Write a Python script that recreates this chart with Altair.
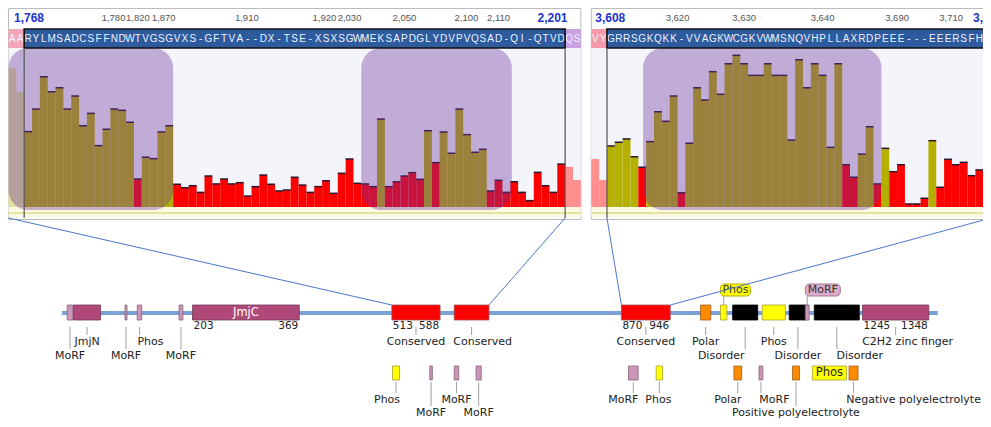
import altair as alt
import pandas as pd

# ---------------------------------------------------------------- data
LEFT_SEQ = list("AA" "RYLMSADCSFFNDWTVGSGVXS-GFTVA--DX-TSE-XSXSGWMEKSAPDGLYDVPVQSAD-QI-QTVD" "QS")
LEFT_VALUES = [87.2, 72.5,
               47.4, 61.6, 81.9, 72.5, 75.0, 61.6, 69.8, 51.1, 58.9, 38.6,
               48.9, 61.6, 60.8, 53.3, 17.6, 31.3, 30.4, 47.2, 51.1, 14.3,
               12.1, 13.4, 9.2, 19.5, 14.5, 17.6, 14.5, 15.3, 6.9, 12.8,
               20.1, 14.3, 10.1, 10.7, 18.7, 13.8, 9.2, 12.8, 16.5, 8.6,
               21.2, 30.2, 14.9, 14.5, 12.8, 55.3, 12.8, 15.9, 19.5, 21.6,
               17.4, 48.0, 27.9, 47.2, 33.8, 61.6, 45.5, 34.4, 36.3, 10.1,
               16.8, 9.2, 15.9, 9.2, 4.0, 21.8, 13.4, 9.2, 27.0,
               25.3, 17.0]
LEFT_CLASS = list("OO" "oooooooooooooo" "r" "oooo" "rrrrrrrrrrrrrrrrrrrrrrrrrr" "o" "rrrrr"
                  "o" "r" "oooooo" "rrrrrrrrrr" "RR")
LEFT_HEADER_COLS = [13.4, 16.5, 19.8, 30.4, 40.3, 43.5, 50.5, 58.4, 62.5]
LEFT_HEADER_LABELS = ["1,780", "1,820", "1,870", "1,910", "1,920", "2,030", "2,050", "2,100", "2,110"]
LEFT_END_LABELS = [("1,768", 0.7, "left"), ("2,201", 71.3, "right")]
LEFT_HIGHLIGHTS = [(0.0, 21.0), (45.0, 64.2)]
LEFT_SELECTION = (2, 71)

RIGHT_SEQ = list("VY" "GRRSGKQKK-VVAGKWCGKVWMSNQVHPLLAXRDPEEE---EEERSFHA")
RIGHT_VALUES = [30.2, 17.0,
                38.4, 40.7, 42.8, 31.6, 25.0, 41.1, 59.9, 53.9, 69.8, 9.0,
                40.1, 75.0, 67.3, 85.1, 70.9, 90.1, 95.4, 90.1, 82.8, 82.8,
                90.1, 82.8, 82.8, 42.1, 92.6, 75.0, 90.1, 82.8, 37.5, 90.1,
                26.6, 18.7, 33.3, 50.5, 14.5, 36.9, 22.2, 26.6, 1.9, 1.9,
                5.5, 41.7, 12.4, 30.0, 26.6, 28.1, 19.7, 23.3, 14.9]
RIGHT_CLASS = list("RR" "oooo" "r" "oooo" "r" "oooooooooooooooooooo" "rr" "oo" "r" "o"
                   "rrrrr" "o" "rrrrrrr")
RIGHT_HEADER_COLS = [11.0, 19.5, 29.5, 39.0, 45.9]
RIGHT_HEADER_LABELS = ["3,620", "3,630", "3,640", "3,690", "3,710"]
RIGHT_END_LABELS = [("3,608", 0.5, "left"), ("3,", 48.7, "left")]
RIGHT_HIGHLIGHTS = [(6.6, 37.0)]
RIGHT_SELECTION = (2, 51)

TRACK_LEN = 1362
UPPER_NAMES = ["MoRF", "JmjN", "MoRF", "Phos", "MoRF", "JmjC", "Conserved", "Conserved",
               "Conserved", "Polar", "Phos", "Disorder", "Phos", "Disorder", "MoRF",
               "Disorder", "C2H2 zinc finger"]
UPPER_START = [8, 18, 98, 117, 182, 203, 513, 610, 870, 993, 1024, 1043, 1089, 1131, 1156, 1170, 1245]
UPPER_END = [17, 60, 101, 124, 188, 369, 588, 664, 946, 1009, 1034, 1082, 1125, 1158, 1162, 1240, 1348]
UPPER_KIND = ["morf", "domain", "morf", "morf", "morf", "domain", "conserved", "conserved",
              "conserved", "polar", "phos", "disorder", "phos", "disorder", "morf",
              "disorder", "domain"]

LOWER_NAMES = ["Phos", "MoRF", "MoRF", "MoRF", "MoRF", "Phos", "Polar", "MoRF",
               "Positive polyelectrolyte", "Phos", "Negative polyelectrolyte"]
LOWER_START = [514, 572, 610, 644, 881, 924, 1045, 1084, 1136, 1167, 1224]
LOWER_END = [525, 576, 617, 652, 896, 934, 1057, 1090, 1147, 1220, 1238]
LOWER_KIND = ["phos", "morf", "morf", "morf", "morf", "phos", "polar", "morf",
              "polar", "phos", "polar"]

# zoom connectors: (panel, panel column, residue)
CONNECT = [("L", 0, 513), ("L", 71, 664), ("R", 2, 870), ("R", 51, 946)]

# ---------------------------------------------------------------- layout / style
W, H = 975, 411
COL_PX = 7.84
L_RANGE = [0.5, 0.5 + len(LEFT_SEQ) * COL_PX]
R_RANGE = [583.3, 583.3 + len(RIGHT_SEQ) * COL_PX]
T_DOMAIN = [0, 1372]
T_RANGE = [54, 54 + 0.643 * 1372]
FONT = "DejaVu Sans"
NFONT = "Liberation Sans"

BAR_COLORS = {"o": "#b5b000", "r": "#ff0000", "O": "#e2e29c", "R": "#ff8e8e"}
KIND_FILL = {"morf": "#cc96b8", "domain": "#b0497a", "conserved": "#ff0000",
             "phos": "#ffff00", "polar": "#ff8c00", "disorder": "#000000"}
KIND_STROKE = {"morf": "#85637a", "domain": "#6e3a52", "conserved": "#a05050",
               "phos": "#a8a030", "polar": "#a06020", "disorder": "#000000"}

# label styles: level 1 = short tick, 2 = long tick, "in" = inside, "co" = callout
UPPER_STYLE = [2, 1, 2, 1, 2, "in", 1, 1, 1, 1, "co", 2, 1, 2, "co", 2, 1]
UPPER_NUMBERS = [5, 6, 8, 16]
UPPER_DX = {3: 11, 7: 11, 11: -24, 15: 23, 16: 12}
LOWER_STYLE = [1, 2, 1, 2, 1, 1, 1, 1, 2, "in", 1]
LOWER_DX = {0: -9, 4: -10, 5: -1, 6: -10, 7: 13.5, 10: 60}
CALLOUT_W = {"Phos": 30, "MoRF": 35}
CALLOUT_FILL = {"phos": ("#ffff00", "#b8a800"), "morf": ("#dcaccb", "#a07a90")}

TRACK_Y = 305
UP_BOX = (297, 312)
NUM_Y = 318
UP_TICK = {1: (319, 327), 2: (319, 341)}
UP_LABEL = {1: 334, 2: 348}
CALL_BOX = (276, 288)
LOW_BOX = (358, 372)
LOW_TICK = {1: (374, 385), 2: (374, 398)}
LOW_LABEL = {1: 392, 2: 405}

PX_PER_RES = (T_RANGE[1] - T_RANGE[0]) / (T_DOMAIN[1] - T_DOMAIN[0])


def panel(seq, values, classes, x_range, hcols, hlabels, ends, highlights, selection,
          flank_l, flank_r):
    n = len(seq)
    xs = alt.Scale(domain=[0, n], range=x_range, nice=False, zero=False)
    ys = alt.Scale(domain=[0, 100], range=[199, 40], nice=False, zero=False)

    def X(f):
        return alt.X(f, type="quantitative", scale=xs, axis=None)

    span = pd.DataFrame({"a": [0], "b": [n]})
    frame = alt.Chart(span).mark_rect(fill="white", stroke="#bcbcbc", strokeWidth=1).encode(
        x=X("a"), x2="b:Q", y=alt.value(0.5), y2=alt.value(211.5))
    plotbg = alt.Chart(span).mark_rect(fill="#f4f4fb").encode(
        x=X("a"), x2="b:Q", y=alt.value(40), y2=alt.value(199))
    band = alt.Chart(span).mark_rect(fill="#fafae4").encode(
        x=X("a"), x2="b:Q", y=alt.value(199), y2=alt.value(209))
    bandline = alt.Chart(span).mark_rule(color="#dcdc8a", strokeWidth=1.5).encode(
        x=X("a"), x2="b:Q", y=alt.value(205))

    s0, s1 = selection
    seqbg_df = pd.DataFrame({"a": [0, s0, s1], "b": [s0, s1, n],
                             "fill": [flank_l, "#2d5b9e", flank_r]})
    seqbg = alt.Chart(seqbg_df).mark_rect().encode(
        x=X("a"), x2="b:Q", y=alt.value(21), y2=alt.value(40),
        color=alt.Color("fill:N", scale=None))
    let_df = pd.DataFrame({"c": [k + 0.5 for k in range(n)], "t": seq})
    letters = alt.Chart(let_df).mark_text(font=NFONT, fontSize=10, color="#eef2ff",
                                          baseline="middle").encode(
        x=X("c"), y=alt.value(30.5), text="t:N")

    hdr = pd.DataFrame({"c": hcols, "t": hlabels})
    header = alt.Chart(hdr).mark_text(font=NFONT, fontSize=9.5, color="#555555",
                                      baseline="middle").encode(
        x=X("c"), y=alt.value(9.5), text="t:N")
    end_layers = []
    for txt, col, al in ends:
        end_layers.append(
            alt.Chart(pd.DataFrame({"c": [col], "t": [txt]})).mark_text(
                font=NFONT, fontSize=12, fontWeight="bold", color="#2233cc",
                align=al, baseline="middle").encode(x=X("c"), y=alt.value(9.5), text="t:N"))

    bars_df = pd.DataFrame({"i": list(range(n)), "i1": [k + 1 for k in range(n)],
                            "v": values, "cls": classes})
    bars_df["fill"] = bars_df["cls"].map(BAR_COLORS)
    bars_df["z"] = 0
    bars = alt.Chart(bars_df).mark_rect().encode(
        x=X("i"), x2="i1:Q", y=alt.Y("v:Q", scale=ys, axis=None), y2="z:Q",
        color=alt.Color("fill:N", scale=None))
    tops = alt.Chart(bars_df).transform_filter(
        "datum.cls == 'o' || datum.cls == 'r'").mark_rule(
        color="#2b1830", strokeWidth=1.5).encode(
        x=X("i"), x2="i1:Q", y=alt.Y("v:Q", scale=ys, axis=None))

    hl = pd.DataFrame(highlights, columns=["a", "b"])
    purple = alt.Chart(hl).mark_rect(fill="#6e349e", fillOpacity=0.38, cornerRadius=20).encode(
        x=X("a"), x2="b:Q", y=alt.value(40), y2=alt.value(202))

    selbox = alt.Chart(pd.DataFrame({"a": [s0], "b": [s1]})).mark_rect(
        fillOpacity=0, stroke="#111111", strokeWidth=1.6).encode(
        x=X("a"), x2="b:Q", y=alt.value(21), y2=alt.value(40))
    sellines = alt.Chart(pd.DataFrame({"a": [s0, s1]})).mark_rule(
        color="#555555", strokeWidth=1.2).encode(x=X("a"), y=alt.value(40), y2=alt.value(210))

    return alt.layer(frame, plotbg, band, seqbg, letters, header, *end_layers,
                     bars, tops, bandline, purple, selbox, sellines)


left = panel(LEFT_SEQ, LEFT_VALUES, LEFT_CLASS, L_RANGE, LEFT_HEADER_COLS, LEFT_HEADER_LABELS,
             LEFT_END_LABELS, LEFT_HIGHLIGHTS, LEFT_SELECTION, "#f2a6b8", "#c9a0e2")
right = panel(RIGHT_SEQ, RIGHT_VALUES, RIGHT_CLASS, R_RANGE, RIGHT_HEADER_COLS,
              RIGHT_HEADER_LABELS, RIGHT_END_LABELS, RIGHT_HIGHLIGHTS, RIGHT_SELECTION,
              "#f59aa8", "#c9a0e2")

# ---------------------------------------------------------------- protein track
txs = alt.Scale(domain=T_DOMAIN, range=T_RANGE, nice=False, zero=False)
tys = alt.Scale(domain=[0, H], range=[0, H], nice=False, zero=False)


def TX(f):
    return alt.X(f, type="quantitative", scale=txs, axis=None)


def TY(f):
    return alt.Y(f, type="quantitative", scale=tys, axis=None)


def feat_df(names, starts, ends, kinds):
    d = pd.DataFrame({"name": names, "s": starts, "e": ends, "kind": kinds})
    d["fill"] = d["kind"].map(KIND_FILL)
    d["stroke"] = d["kind"].map(KIND_STROKE)
    d["mid"] = (d["s"] + d["e"]) / 2
    return d


up = feat_df(UPPER_NAMES, UPPER_START, UPPER_END, UPPER_KIND)
lo = feat_df(LOWER_NAMES, LOWER_START, LOWER_END, LOWER_KIND)

track_line = alt.Chart(pd.DataFrame({"a": [0], "b": [TRACK_LEN]})).mark_rule(
    color="#7ba1d6", strokeWidth=4).encode(x=TX("a"), x2="b:Q", y=alt.value(TRACK_Y))


def boxes(d, yy):
    return alt.Chart(d).mark_rect(strokeWidth=0.8).encode(
        x=TX("s"), x2="e:Q", y=alt.value(yy[0]), y2=alt.value(yy[1]),
        fill=alt.Fill("fill:N", scale=None), stroke=alt.Stroke("stroke:N", scale=None))


up_boxes = boxes(up, UP_BOX)
lo_boxes = boxes(lo, LOW_BOX)

nums = up.iloc[UPPER_NUMBERS]
num_start = alt.Chart(nums).mark_text(font=FONT, fontSize=10.5, color="#222222", align="left",
                                      baseline="middle", dx=1).encode(
    x=TX("s"), y=alt.value(NUM_Y), text="s:N")
num_end = alt.Chart(nums).mark_text(font=FONT, fontSize=10.5, color="#222222", align="right",
                                    baseline="middle", dx=-1).encode(
    x=TX("e"), y=alt.value(NUM_Y), text="e:N")

# ticks and labels
tick_rows, label_rows, inside_rows, call_rows = [], [], [], []
for d, styles, dxs, ticks, labs, box in [(up, UPPER_STYLE, UPPER_DX, UP_TICK, UP_LABEL, UP_BOX),
                                         (lo, LOWER_STYLE, LOWER_DX, LOW_TICK, LOW_LABEL, LOW_BOX)]:
    for k, row in d.iterrows():
        st = styles[k]
        if st in (1, 2):
            t0, t1 = ticks[st]
            tick_rows.append({"x": row["mid"], "y1": t0, "y2": t1})
            label_rows.append({"x": row["mid"] + dxs.get(k, 0) / PX_PER_RES,
                               "y": labs[st], "t": row["name"]})
        elif st == "in":
            inside_rows.append({"x": row["mid"], "y": (box[0] + box[1]) / 2, "t": row["name"],
                                "c": "white" if row["kind"] == "domain" else "#222222"})
        elif st == "co":
            w = CALLOUT_W[row["name"]] / PX_PER_RES
            f, s = CALLOUT_FILL[row["kind"]]
            call_rows.append({"a": row["s"], "b": row["s"] + w, "cx": row["s"] + w / 2,
                              "mid": row["mid"], "t": row["name"], "fill": f, "stroke": s})

ticks_df = pd.DataFrame(tick_rows)
labels_df = pd.DataFrame(label_rows)
inside_df = pd.DataFrame(inside_rows)
call_df = pd.DataFrame(call_rows)

tick_layer = alt.Chart(ticks_df).mark_rule(color="#a0a0a0", strokeWidth=1).encode(
    x=TX("x"), y=TY("y1"), y2="y2:Q")
label_layer = alt.Chart(labels_df).mark_text(font=FONT, fontSize=11, color="#222222",
                                             baseline="middle").encode(
    x=TX("x"), y=TY("y"), text="t:N")
inside_layer = alt.Chart(inside_df).mark_text(font=FONT, fontSize=11.5, baseline="middle").encode(
    x=TX("x"), y=TY("y"), text="t:N", color=alt.Color("c:N", scale=None))
call_tick = alt.Chart(call_df).mark_rule(color="#a0a0a0", strokeWidth=1).encode(
    x=TX("mid"), y=alt.value(CALL_BOX[1]), y2=alt.value(UP_BOX[0]))
call_box = alt.Chart(call_df).mark_rect(cornerRadius=4, strokeWidth=1).encode(
    x=TX("a"), x2="b:Q", y=alt.value(CALL_BOX[0]), y2=alt.value(CALL_BOX[1]),
    fill=alt.Fill("fill:N", scale=None), stroke=alt.Stroke("stroke:N", scale=None))
call_text = alt.Chart(call_df).mark_text(font=FONT, fontSize=11, color="#333333",
                                         baseline="middle").encode(
    x=TX("cx"), y=alt.value((CALL_BOX[0] + CALL_BOX[1]) / 2), text="t:N")

track = alt.layer(track_line, tick_layer, call_tick, up_boxes, lo_boxes, num_start, num_end,
                  label_layer, inside_layer, call_box, call_text)

# ---------------------------------------------------------------- zoom connectors


def panel_px(p, c):
    rng, n = (L_RANGE, len(LEFT_SEQ)) if p == "L" else (R_RANGE, len(RIGHT_SEQ))
    return rng[0] + c * (rng[1] - rng[0]) / n


conn_df = pd.DataFrame({
    "x": [panel_px(p, c) for p, c, r in CONNECT],
    "y": [210 for _ in CONNECT],
    "x2": [T_RANGE[0] + r * PX_PER_RES for p, c, r in CONNECT],
    "y2": [UP_BOX[0] for _ in CONNECT],
})
pxs = alt.Scale(domain=[0, W], range=[0, W], nice=False, zero=False)
connectors = alt.Chart(conn_df).mark_rule(color="#4a78c8", strokeWidth=1).encode(
    x=alt.X("x:Q", scale=pxs, axis=None), x2="x2:Q",
    y=alt.Y("y:Q", scale=tys, axis=None), y2="y2:Q")

chart = alt.layer(left, right, track, connectors).resolve_scale(
    x="independent", y="independent"
).properties(
    width=W, height=H, padding=0, background="white",
    autosize=alt.AutoSizeParams(type="none")
).configure_view(stroke=None)

chart.save("out.html", embed_options={"renderer": "svg", "actions": False})
